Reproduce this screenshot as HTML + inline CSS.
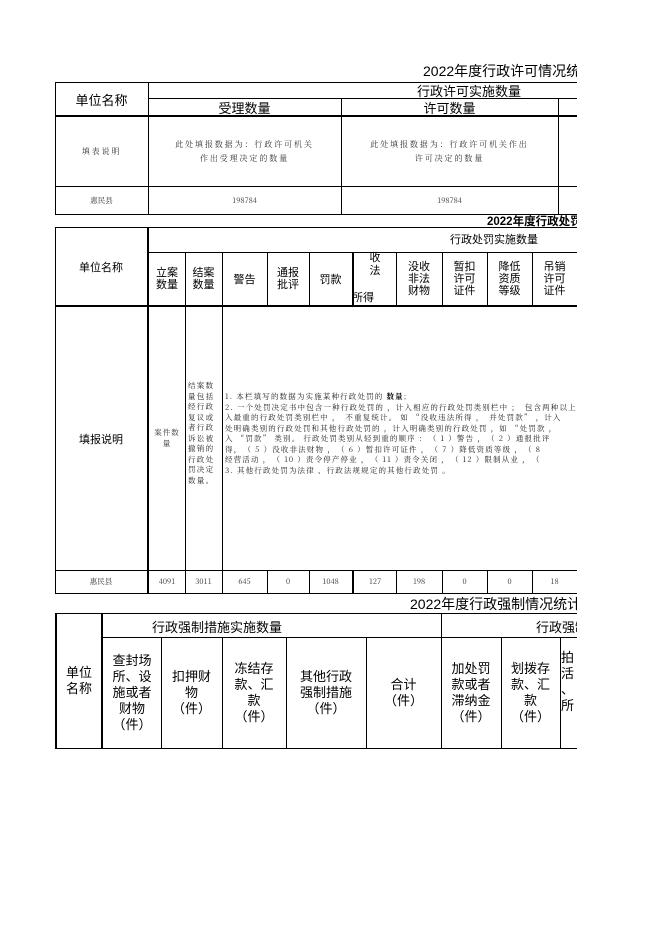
<!DOCTYPE html>
<html><head><meta charset="utf-8">
<style>
html,body{margin:0;padding:0;background:#fff;}
body{width:662px;height:936px;position:relative;overflow:hidden;font-family:"Liberation Sans","Noto Sans CJK SC",sans-serif;color:#000;}
.clip{position:absolute;left:0;top:0;width:577px;height:936px;overflow:hidden;}
.h{position:absolute;height:1px;background:#000;}
.v{position:absolute;width:1px;background:#000;}
.t{position:absolute;display:flex;align-items:center;justify-content:center;text-align:center;white-space:nowrap;}
.s{font-family:"Noto Serif CJK SC","Liberation Serif",serif;font-size:7.5px;color:#333;}
.w{font-size:8px;letter-spacing:1.9px;}
.d{font-family:"Noto Serif CJK SC","Liberation Serif",serif;font-size:7.5px;color:#222;position:absolute;white-space:nowrap;line-height:10.5px;letter-spacing:1.15px;}
</style></head><body>
<div class="clip">
<!-- Table 1 -->
<div class="t" style="left:423px;top:62px;height:18px;font-size:14px;">2022年度行政许可情况统计</div>
<div class="h" style="left:55px;top:82px;width:530px;"></div>
<div class="h" style="left:148px;top:98px;width:430px;"></div>
<div class="h" style="left:55px;top:115px;width:530px;height:2px;"></div>
<div class="h" style="left:55px;top:186px;width:530px;"></div>
<div class="h" style="left:55px;top:214px;width:530px;"></div>
<div class="v" style="left:55px;top:82px;height:133px;"></div>
<div class="v" style="left:148px;top:82px;height:133px;"></div>
<div class="v" style="left:341px;top:98px;height:117px;"></div>
<div class="v" style="left:558px;top:98px;height:117px;"></div>
<div class="t" style="left:55px;top:82px;width:93px;height:34px;font-size:13px;">单位名称</div>
<div class="t" style="left:417px;top:82px;height:16px;font-size:13px;">行政许可实施数量</div>
<div class="t" style="left:148px;top:98px;width:193px;height:18px;font-size:13px;">受理数量</div>
<div class="t" style="left:341px;top:98px;width:217px;height:18px;font-size:13px;">许可数量</div>
<div class="t s w" style="left:55px;top:117px;width:93px;height:69px;">填表说明</div>
<div class="t s w" style="left:148px;top:117px;width:193px;height:69px;line-height:14px;">此处填报数据为：行政许可机关<br>作出受理决定的数量</div>
<div class="t s w" style="left:341px;top:117px;width:217px;height:69px;line-height:14px;">此处填报数据为：行政许可机关作出<br>许可决定的数量</div>
<div class="t s" style="left:55px;top:186px;width:93px;height:28px;">惠民县</div>
<div class="t s" style="left:148px;top:186px;width:193px;height:28px;">198784</div>
<div class="t s" style="left:341px;top:186px;width:217px;height:28px;">198784</div>

<!-- Table 2 -->
<div class="t" style="left:487px;top:214px;height:14px;font-size:11.5px;font-weight:bold;">2022年度行政处罚情况</div>
<div class="h" style="left:55px;top:227px;width:530px;"></div>
<div class="h" style="left:148px;top:252px;width:430px;"></div>
<div class="h" style="left:55px;top:305px;width:530px;height:2px;"></div>
<div class="h" style="left:55px;top:570px;width:530px;"></div>
<div class="h" style="left:55px;top:593px;width:530px;"></div>
<div class="v" style="left:55px;top:227px;height:367px;"></div>
<div class="v" style="left:147px;top:227px;height:367px;width:2px;"></div>
<div class="v" style="left:185px;top:252px;height:342px;"></div>
<div class="v" style="left:222px;top:252px;height:342px;"></div>
<div class="v" style="left:267px;top:252px;height:54px;"></div>
<div class="v" style="left:267px;top:570px;height:24px;"></div>
<div class="v" style="left:309px;top:252px;height:54px;"></div>
<div class="v" style="left:309px;top:570px;height:24px;"></div>
<div class="v" style="left:352px;top:252px;height:54px;width:2px;"></div>
<div class="v" style="left:352px;top:570px;height:24px;width:2px;"></div>
<div class="v" style="left:396px;top:252px;height:54px;"></div>
<div class="v" style="left:396px;top:570px;height:24px;"></div>
<div class="v" style="left:442px;top:252px;height:54px;"></div>
<div class="v" style="left:442px;top:570px;height:24px;"></div>
<div class="v" style="left:487px;top:252px;height:54px;"></div>
<div class="v" style="left:487px;top:570px;height:24px;"></div>
<div class="v" style="left:532px;top:252px;height:54px;"></div>
<div class="v" style="left:532px;top:570px;height:24px;"></div>
<div class="t" style="left:55px;top:227px;width:92px;height:80px;font-size:11px;">单位名称</div>
<div class="t" style="left:450px;top:231px;height:16px;font-size:11px;">行政处罚实施数量</div>
<div class="t" style="left:149px;top:252px;width:36px;height:54px;font-size:11px;line-height:12px;">立案<br>数量</div>
<div class="t" style="left:185px;top:252px;width:37px;height:54px;font-size:11px;line-height:12px;">结案<br>数量</div>
<div class="t" style="left:222px;top:252px;width:45px;height:54px;font-size:11px;">警告</div>
<div class="t" style="left:267px;top:252px;width:42px;height:54px;font-size:11px;line-height:12px;">通报<br>批评</div>
<div class="t" style="left:309px;top:252px;width:43px;height:54px;font-size:11px;">罚款</div>
<div class="t" style="left:354px;top:250px;width:42px;height:13px;font-size:11px;">收</div>
<div class="t" style="left:354px;top:263px;width:42px;height:13px;font-size:11px;">法</div>
<div class="t" style="left:352px;top:290px;height:13px;font-size:11px;">所得</div>
<div class="t" style="left:396px;top:252px;width:46px;height:54px;font-size:11px;line-height:12px;">没收<br>非法<br>财物</div>
<div class="t" style="left:442px;top:252px;width:45px;height:54px;font-size:11px;line-height:12px;">暂扣<br>许可<br>证件</div>
<div class="t" style="left:487px;top:252px;width:45px;height:54px;font-size:11px;line-height:12px;">降低<br>资质<br>等级</div>
<div class="t" style="left:532px;top:252px;width:45px;height:54px;font-size:11px;line-height:12px;">吊销<br>许可<br>证件</div>
<div class="t" style="left:55px;top:307px;width:92px;height:263px;font-size:11px;">填报说明</div>
<div class="t s" style="left:149px;top:307px;width:36px;height:263px;line-height:10.5px;letter-spacing:1px;">案件数<br>量</div>
<div class="d" style="left:188px;top:381px;letter-spacing:1.3px;">结案数<br>量包括<br>经行政<br>复议或<br>者行政<br>诉讼被<br>撤销的<br>行政处<br>罚决定<br>数量。</div>
<div class="d" style="left:225px;top:392px;">1. 本栏填写的数据为实施某种行政处罚的 <b style="color:#000">数量</b>;<br>2. 一个处罚决定书中包含一种行政处罚的 ，计入相应的行政处罚类别栏中 ；　包含两种以上<br>入最重的行政处罚类别栏中 ，　不重复统计。 如 “没收违法所得 ，　并处罚款” ，计入<br>处明确类别的行政处罚和其他行政处罚的 ，计入明确类别的行政处罚 ，如 “处罚款 ，<br>入 “罚款” 类别。 行政处罚类别从轻到重的顺序 ：　（ 1 ）警告 ，　（ 2 ）通报批评<br>得，　（ 5 ）没收非法财物 ，　（ 6 ）暂扣许可证件 ，　（ 7 ）降低资质等级 ，　（ 8<br>经营活动 ，　（ 10 ）责令停产停业 ，　（ 11 ）责令关闭 ，　（ 12 ）限制从业 ，　（<br>3. 其他行政处罚为法律 、行政法规规定的其他行政处罚 。</div>
<div class="t s" style="left:55px;top:570px;width:92px;height:23px;">惠民县</div>
<div class="t s" style="left:149px;top:570px;width:36px;height:23px;">4091</div>
<div class="t s" style="left:185px;top:570px;width:37px;height:23px;">3011</div>
<div class="t s" style="left:222px;top:570px;width:45px;height:23px;">645</div>
<div class="t s" style="left:267px;top:570px;width:42px;height:23px;">0</div>
<div class="t s" style="left:309px;top:570px;width:43px;height:23px;">1048</div>
<div class="t s" style="left:354px;top:570px;width:42px;height:23px;">127</div>
<div class="t s" style="left:396px;top:570px;width:46px;height:23px;">198</div>
<div class="t s" style="left:442px;top:570px;width:45px;height:23px;">0</div>
<div class="t s" style="left:487px;top:570px;width:45px;height:23px;">0</div>
<div class="t s" style="left:532px;top:570px;width:45px;height:23px;">18</div>

<!-- Table 3 -->
<div class="t" style="left:410px;top:595px;height:18px;font-size:14px;">2022年度行政强制情况统计表</div>
<div class="h" style="left:55px;top:613px;width:530px;"></div>
<div class="h" style="left:101px;top:637px;width:480px;"></div>
<div class="h" style="left:55px;top:748px;width:530px;"></div>
<div class="v" style="left:55px;top:613px;height:136px;width:2px;"></div>
<div class="v" style="left:101px;top:613px;height:136px;width:2px;"></div>
<div class="v" style="left:161px;top:637px;height:112px;"></div>
<div class="v" style="left:222px;top:637px;height:112px;"></div>
<div class="v" style="left:286px;top:637px;height:112px;"></div>
<div class="v" style="left:366px;top:637px;height:112px;"></div>
<div class="v" style="left:441px;top:613px;height:136px;"></div>
<div class="v" style="left:501px;top:637px;height:112px;"></div>
<div class="v" style="left:560px;top:637px;height:112px;"></div>
<div class="t" style="left:57px;top:613px;width:44px;height:135px;font-size:13px;line-height:16px;">单位<br>名称</div>
<div class="t" style="left:152px;top:615px;height:22px;font-size:13px;">行政强制措施实施数量</div>
<div class="t" style="left:536px;top:615px;height:22px;font-size:13px;">行政强制执行</div>
<div class="t" style="left:103px;top:637px;width:58px;height:111px;font-size:13px;line-height:16px;">查封场<br>所、设<br>施或者<br>财物<br>（件）</div>
<div class="t" style="left:161px;top:637px;width:61px;height:111px;font-size:13px;line-height:16px;">扣押财<br>物<br>（件）</div>
<div class="t" style="left:222px;top:637px;width:64px;height:111px;font-size:13px;line-height:16px;">冻结存<br>款、汇<br>款<br>（件）</div>
<div class="t" style="left:286px;top:637px;width:80px;height:111px;font-size:13px;line-height:16px;">其他行政<br>强制措施<br>（件）</div>
<div class="t" style="left:366px;top:637px;width:75px;height:111px;font-size:13px;line-height:16px;">合计<br>（件）</div>
<div class="t" style="left:441px;top:637px;width:60px;height:111px;font-size:13px;line-height:16px;">加处罚<br>款或者<br>滞纳金<br>（件）</div>
<div class="t" style="left:501px;top:637px;width:59px;height:111px;font-size:13px;line-height:16px;">划拨存<br>款、汇<br>款<br>（件）</div>
<div class="t" style="left:561px;top:637px;width:30px;height:90px;font-size:13px;line-height:16px;justify-content:flex-start;">拍<br>活<br>、<br>所</div>
</div>
</body></html>
